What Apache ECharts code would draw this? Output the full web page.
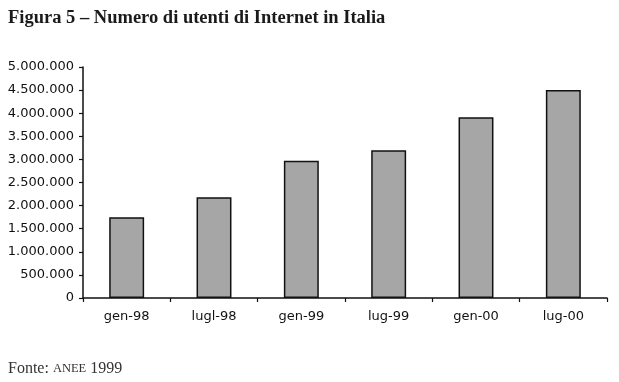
<!DOCTYPE html>
<html>
<head>
<meta charset="utf-8">
<script src="https://cdn.jsdelivr.net/npm/echarts@6/dist/echarts.min.js"></script>
<style>html,body{margin:0;padding:0;background:#fff}#c{width:619px;height:382px}</style>
</head>
<body>
<div id="c"></div>
<script>
var categories = ['gen-98', 'lugl-98', 'gen-99', 'lug-99', 'gen-00', 'lug-00'];
var utenti = [1750000, 2180000, 2970000, 3200000, 3910000, 4500000];
var titleText = 'Figura 5 – Numero di utenti di Internet in Italia';

function fmt(v) {
  return String(v).replace(/\B(?=(\d{3})+(?!\d))/g, '.');
}

var chart = echarts.init(document.getElementById('c'), null, {renderer: 'canvas'});
chart.setOption({
  animation: false,
  backgroundColor: '#ffffff',
  title: [{
    text: titleText,
    left: 3, top: 4,
    textStyle: {fontFamily: 'Liberation Serif', fontWeight: 'bold', fontSize: 18.5, color: '#1a1a1a'}
  }, {
    text: '{a|Fonte: }{b|ANEE}{a| 1999}',
    left: 3, top: 356,
    textStyle: {
      fontWeight: 'normal',
      rich: {
        a: {fontFamily: 'Liberation Serif', fontWeight: 'normal', fontSize: 16, color: '#333'},
        b: {fontFamily: 'Liberation Serif', fontWeight: 'normal', fontSize: 12.5, color: '#333'}
      }
    }
  }],
  grid: {left: 83, right: 12, top: 67, bottom: 84, containLabel: false},
  xAxis: {
    type: 'category',
    data: categories,
    axisLine: {show: true, lineStyle: {color: '#111', width: 1.5}},
    axisTick: {show: true, length: 4, lineStyle: {color: '#111', width: 1.2}},
    axisLabel: {fontFamily: 'DejaVu Sans', fontSize: 13, color: '#111', margin: 12}
  },
  yAxis: {
    type: 'value',
    min: 0, max: 5000000, interval: 500000,
    axisLine: {show: true, lineStyle: {color: '#111', width: 1.5}},
    axisTick: {show: true, length: 4, lineStyle: {color: '#111', width: 1.2}},
    splitLine: {show: false},
    axisLabel: {fontFamily: 'DejaVu Sans', fontSize: 13, color: '#111', margin: 9, formatter: fmt}
  },
  series: [{
    type: 'bar',
    data: utenti,
    barWidth: '40%',
    itemStyle: {color: '#a6a6a6', borderColor: '#111', borderWidth: 1.5}
  }]
});
</script>
</body>
</html>
